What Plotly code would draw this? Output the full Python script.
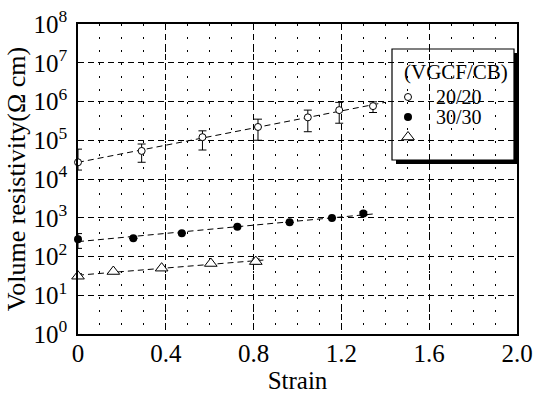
import numpy as np
import plotly.graph_objects as go

# ---- data ----
strain_a = [0.0, 0.29, 0.567, 0.82, 1.047, 1.19, 1.344]
rho_a = [2.7e4, 5.3e4, 1.2e5, 2.2e5, 3.9e5, 6.0e5, 7.6e5]
rho_a_hi = [5.9e4, 8.0e4, 1.75e5, 3.5e5, 6.0e5, 9.5e5, 9.8e5]
rho_a_lo = [1.7e4, 2.7e4, 5.6e4, 1.0e5, 1.66e5, 2.75e5, 5.2e5]

strain_b = [0.0, 0.252, 0.473, 0.726, 0.964, 1.157, 1.30]
rho_b = [280, 295, 400, 590, 760, 980, 1290]
rho_b_hi = [390, 295, 400, 590, 760, 980, 1420]
rho_b_lo = [162, 295, 400, 590, 760, 980, 1150]

strain_c = [0.0, 0.161, 0.381, 0.605, 0.81]
rho_c = [31, 41, 50, 66, 74]
rho_c_hi = [36, 41, 50, 66, 86]
rho_c_lo = [27, 41, 50, 66, 64]

fit_end = [1.40, 1.345, 0.86]

names = ["20/20", "30/30", ""]
legend_title = "(VGCF/CB)"
xticks = [0, 0.4, 0.8, 1.2, 1.6, 2.0]
xtick_text = ["0", "0.4", "0.8", "1.2", "1.6", "2.0"]
yexp = list(range(0, 9))

FONT = "Liberation Serif, Times New Roman, serif"

fig = go.Figure()

series = [
    (strain_a, rho_a, rho_a_hi, rho_a_lo, dict(symbol="circle", size=7, color="white", line=dict(color="black", width=1))),
    (strain_b, rho_b, rho_b_hi, rho_b_lo, dict(symbol="circle", size=8, color="black", line=dict(color="black", width=0))),
    (strain_c, rho_c, rho_c_hi, rho_c_lo, dict(symbol="triangle-up", size=11, color="white", line=dict(color="black", width=1))),
]

# fitted dashed lines
for (xs, ys, hi, lo, mk), xe in zip(series, fit_end):
    k, b = np.polyfit(np.array(xs), np.log10(np.array(ys)), 1)
    fx = np.array([0.0, xe])
    fig.add_trace(go.Scatter(x=fx, y=10 ** (k * fx + b), mode="lines",
                             line=dict(color="black", width=1, dash="6px,4px"),
                             showlegend=False, hoverinfo="skip"))

for xs, ys, hi, lo, mk in series:
    ys_ = np.array(ys, float)
    fig.add_trace(go.Scatter(
        x=xs, y=ys, mode="markers", marker=mk, showlegend=False, cliponaxis=False,
        error_y=dict(type="data", symmetric=False,
                     array=list(np.array(hi) - ys_), arrayminus=list(ys_ - np.array(lo)),
                     color="black", thickness=1, width=4),
    ))

# ---- hand-made legend with shadow ----
def px2paper(px, py):
    return (px - 78) / 439.0, (334 - py) / 310.0

x0, y0 = px2paper(396, 53)
x1, y1 = px2paper(518, 164)
fig.add_shape(type="rect", xref="paper", yref="paper", x0=x0, x1=x1, y0=y1, y1=y0,
              fillcolor="black", line=dict(width=0), layer="between")
x0, y0 = px2paper(392, 49)
x1, y1 = px2paper(514, 160)
fig.add_shape(type="rect", xref="paper", yref="paper", x0=x0, x1=x1, y0=y1, y1=y0,
              fillcolor="white", line=dict(color="black", width=1.2), layer="between")

tx, ty = px2paper(455.5, 72)
fig.add_annotation(xref="paper", yref="paper", x=tx, y=ty, text=legend_title, showarrow=False,
                   font=dict(family=FONT, size=21, color="black"), xanchor="center", yanchor="middle")
rows = [97, 117, 137]
for (xs, ys, hi, lo, mk), nm, ry in zip(series, names, rows):
    mx, my = px2paper(408, ry)
    fig.add_trace(go.Scatter(x=[mx], y=[my], xaxis="x2", yaxis="y2", mode="markers",
                             marker=mk, showlegend=False, hoverinfo="skip"))
    if nm:
        lx, ly = px2paper(434, ry)
        fig.add_annotation(xref="paper", yref="paper", x=lx, y=ly, text=nm, showarrow=False,
                           font=dict(family=FONT, size=20, color="black"),
                           xanchor="left", yanchor="middle")

fig.update_layout(
    width=534, height=395,
    margin=dict(l=78, r=17, t=24, b=61, autoexpand=False),
    paper_bgcolor="white", plot_bgcolor="white",
    font=dict(family=FONT, size=25, color="black"),
    showlegend=False,
    xaxis=dict(
        range=[0, 2.0], tickmode="array", tickvals=xticks, ticktext=xtick_text,
        showline=True, linecolor="black", linewidth=1.5, mirror=True,
        showgrid=True, gridcolor="black", gridwidth=1, griddash="6px,4px",
        zeroline=False, ticks="", tickfont=dict(size=25), automargin=False,
        ticklabelstandoff=-4,
        minor=dict(tickmode="linear", tick0=0, dtick=0.1, showgrid=True,
                   gridcolor="black", gridwidth=1, griddash="2px,11px"),
        title=dict(text="Strain", font=dict(size=25), standoff=2),
    ),
    yaxis=dict(
        type="log", range=[0, 8], tickmode="array",
        tickvals=[10 ** e for e in yexp], ticktext=[f"10<sup>{e}</sup>" for e in yexp],
        showline=True, linecolor="black", linewidth=1.5, mirror=True,
        showgrid=True, gridcolor="black", gridwidth=1, griddash="6px,4px",
        zeroline=False, ticks="", tickfont=dict(size=25), ticklabelstandoff=4,
        automargin=False,
        title=dict(text="Volume resistivity(Ω cm)", font=dict(size=26), standoff=0),
    ),
    xaxis2=dict(overlaying="x", range=[0, 1], visible=False),
    yaxis2=dict(overlaying="y", range=[0, 1], visible=False),
)

fig.write_html("out.html")
